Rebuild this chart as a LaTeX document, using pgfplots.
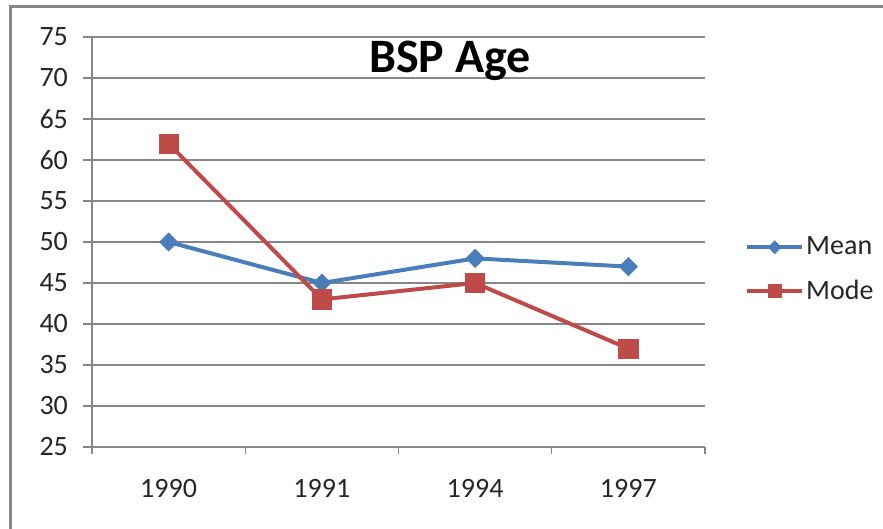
\documentclass[border=0pt]{standalone}
\usepackage{pgfplots}
\pgfplotsset{compat=1.18}
\usepackage{fontspec}
\setmainfont{Carlito}
\definecolor{meanblue}{HTML}{4A7EBB}
\definecolor{modered}{HTML}{BE4B48}
\definecolor{gridgray}{HTML}{868686}
\begin{document}
\begin{tikzpicture}[x=0.5pt,y=0.5pt]
\useasboundingbox (0,0) rectangle (883,529);
\draw[gridgray,line width=1.5pt] (10,-20) rectangle (900,522);
\begin{axis}[
  at={(46pt,41pt)}, anchor=south west,
  scale only axis, width=306.5pt, height=205pt,
  xmin=-0.5, xmax=3.5, ymin=25, ymax=75,
  axis x line*=bottom, axis y line*=left,
  axis line style={gridgray, line width=0.6pt},
  xtick={0,1,2,3}, xticklabels={1990,1991,1994,1997},
  minor xtick={-0.5,0.5,1.5,2.5,3.5},
  ytick={25,30,...,75},
  tick align=outside,
  major tick length=4.5pt, minor tick length=3.5pt,
  x tick style={draw=none},
  minor x tick style={draw=gridgray, line width=0.6pt},
  y tick style={gridgray, line width=0.6pt},
  ymajorgrids, grid style={gridgray, line width=0.6pt},
  /pgf/number format/assume math mode=true,
  tick label style={font=\fontsize{14}{16}\selectfont, text=black!85},
  xticklabel style={yshift=-8pt},
  yticklabel style={xshift=-4pt},
  clip=false,
  legend style={at={(rel axis cs:1.065,0.433)}, anchor=west, draw=none,
    font=\fontsize{14}{16}\selectfont, text=black!85, inner sep=0pt,
    row sep=7pt, nodes={inner xsep=1pt}},
  legend cell align=left,
  legend image code/.code={
    \draw[mark repeat=2,mark phase=2,#1,every mark/.append style={scale=0.7}] plot coordinates {(0pt,0pt)(13.75pt,0pt)(27.5pt,0pt)};
  },
]
\addplot[meanblue, line width=2pt, mark=square*, mark size=3.2pt, mark options={solid, rotate=45, line width=0.4pt}]
  coordinates {(0,50) (1,45) (2,48) (3,47)};
\addlegendentry{Mean}
\addplot[modered, line width=2pt, mark=square*, mark size=4.8pt, mark options={solid, line width=0.4pt}]
  coordinates {(0,62) (1,43) (2,45) (3,37)};
\addlegendentry{Mode}
\end{axis}
\node[font=\bfseries\fontsize{24}{28}\selectfont, text=black] at (450,468) {BSP Age};
\end{tikzpicture}
\end{document}
